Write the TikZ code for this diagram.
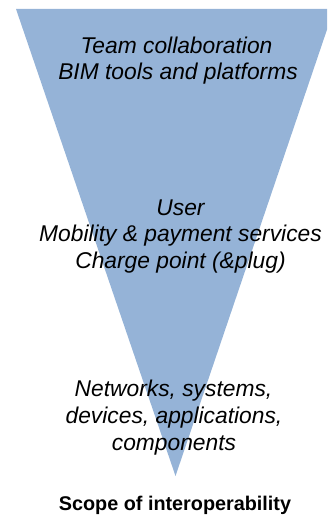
\documentclass[tikz,border=0pt]{standalone}
\usepackage{fontspec}
\setmainfont{Liberation Sans}
\definecolor{funnelblue}{HTML}{95B3D7}
\tikzset{
  layer/.style={font=\fontsize{22.8}{26.7}\selectfont\itshape, anchor=base, inner sep=0pt},
  caption/.style={font=\fontsize{19.8}{23}\selectfont\bfseries, anchor=base, inner sep=0pt}
}
\begin{document}
\begin{tikzpicture}[x=1pt,y=-1pt]
  \useasboundingbox (0,0) rectangle (327,518);
  \clip (0,0) rectangle (327,518);
  % inverted funnel
  \fill[funnelblue] (16,9) -- (334,9) -- (175.5,476) -- cycle;
  % top layer
  \node[layer] (t1) at (176.5,53.3) {Team collaboration};
  \node[layer] (t2) at (178,79.8) {BIM tools and platforms};
  % middle layer
  \node[layer] (m1) at (180.5,215) {User};
  \node[layer] (m2) at (180.5,241.7) {Mobility \& payment services};
  \node[layer] (m3) at (180.5,268.4) {Charge point (\&plug)};
  % bottom layer
  \node[layer] (b1) at (173.5,396.7) {Networks, systems,};
  \node[layer] (b2) at (174,423.4) {devices, applications,};
  \node[layer] (b3) at (174,450.1) {components};
  % caption
  \node[caption] (cap) at (175,510) {Scope of interoperability};
\end{tikzpicture}
\end{document}
